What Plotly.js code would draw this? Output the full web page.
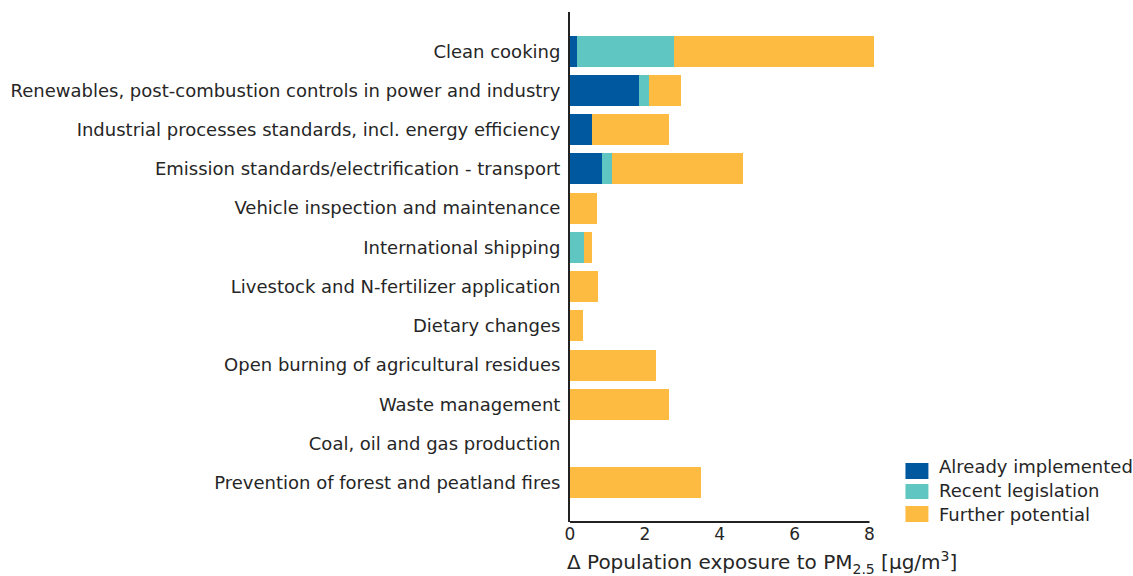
<!DOCTYPE html>
<html>
<head>
<meta charset="utf-8">
<script src="https://cdn.plot.ly/plotly-3.0.1.min.js"></script>
<style>
  html, body { margin: 0; padding: 0; background: #ffffff; }
  #chart { width: 1133px; height: 576px; }
</style>
</head>
<body>
<div id="chart"></div>
<script>
// Policy measures, top to bottom
const measures = [
  "Clean cooking",
  "Renewables, post-combustion controls in power and industry",
  "Industrial processes standards, incl. energy efficiency",
  "Emission standards/electrification - transport",
  "Vehicle inspection and maintenance",
  "International shipping",
  "Livestock and N-fertilizer application",
  "Dietary changes",
  "Open burning of agricultural residues",
  "Waste management",
  "Coal, oil and gas production",
  "Prevention of forest and peatland fires"
];

// Reduction in population exposure to PM2.5 [µg/m3] per measure
const alreadyImplemented = [0.19, 1.84, 0.59, 0.85, 0, 0,    0,    0,    0,    0,    0, 0];
const recentLegislation  = [2.58, 0.27, 0,    0.27, 0, 0.37, 0,    0,    0,    0,    0, 0];
const furtherPotential   = [5.36, 0.85, 2.05, 3.49, 0.72, 0.22, 0.75, 0.35, 2.29, 2.64, 0, 3.49];

const seriesNames = ["Already implemented", "Recent legislation", "Further potential"];
const xTicks = [0, 2, 4, 6, 8];

const colors = ["#00589e", "#5fc6c1", "#fdbb41"];
const textColor = "#262626";
const fontFamily = "DejaVu Sans, Verdana, sans-serif";

const seriesValues = [alreadyImplemented, recentLegislation, furtherPotential];
const traces = seriesValues.map((vals, i) => ({
  type: "bar",
  orientation: "h",
  name: seriesNames[i],
  y: measures,
  x: vals,
  marker: { color: colors[i], line: { width: 0 } },
  hoverinfo: "x+y+name",
  showlegend: false
}));

// Plot box in pixels; the x range runs a little past the last tick so the
// longest bar is not clipped, while the axis line stops at the last tick.
const xMax = 8.2;
const plotTop = 12, plotH = 510, plotLeft = 570, plotW = 37.5 * xMax;
const px2x = p => (p - plotLeft) / plotW;
const px2y = p => (plotTop + plotH - p) / plotH;

// Key: coloured blocks with labels to the right of the plot area
const keyBlocks = [[463, 479], [484, 499], [506, 522]];
const keyText = [466, 490, 514];

const shapes = seriesNames.map((n, i) => ({
  type: "rect",
  xref: "paper", yref: "paper",
  x0: px2x(906), x1: px2x(929),
  y0: px2y(keyBlocks[i][1]), y1: px2y(keyBlocks[i][0]),
  fillcolor: colors[i],
  line: { width: 0 }
}));

// x axis baseline from the first to the last tick
shapes.push({
  type: "line",
  xref: "x", yref: "paper",
  x0: xTicks[0], x1: xTicks[xTicks.length - 1],
  y0: 0, y1: 0,
  line: { color: "#222222", width: 2 },
  layer: "above"
});

const annotations = seriesNames.map((n, i) => ({
  xref: "paper", yref: "paper",
  x: px2x(938), y: px2y(keyText[i]),
  xanchor: "left", yanchor: "middle",
  showarrow: false,
  text: n,
  font: { family: fontFamily, size: 18, color: textColor }
}));

annotations.push({
  xref: "paper",
  yref: "paper",
  x: px2x(565),
  y: px2y(562),
  xanchor: "left",
  yanchor: "middle",
  showarrow: false,
  text: "Δ Population exposure to PM<sub>2.5</sub> [µg/m<sup>3</sup>]",
  font: { family: fontFamily, size: 20, color: textColor }
});

const layout = {
  width: 1133,
  height: 576,
  margin: { l: plotLeft, r: 1133 - plotLeft - plotW, t: plotTop, b: 576 - plotTop - plotH },
  paper_bgcolor: "#ffffff",
  plot_bgcolor: "#ffffff",
  barmode: "stack",
  bargap: 0.21,
  font: { family: fontFamily, size: 18, color: textColor },
  showlegend: false,
  xaxis: {
    range: [0, xMax],
    tickvals: xTicks,
    ticktext: xTicks.map(String),
    ticks: "",
    showgrid: false,
    zeroline: false,
    showline: false,
    tickfont: { family: fontFamily, size: 17, color: textColor }
  },
  yaxis: {
    type: "category",
    categoryorder: "array",
    categoryarray: measures,
    range: [12, -1],
    ticks: "",
    ticklabelstandoff: 4,
    showgrid: false,
    zeroline: false,
    showline: true,
    linecolor: "#222222",
    linewidth: 2,
    tickfont: { family: fontFamily, size: 18, color: textColor }
  },
  shapes: shapes,
  annotations: annotations
};

Plotly.newPlot("chart", traces, layout, { displayModeBar: false, staticPlot: true });
</script>
</body>
</html>
